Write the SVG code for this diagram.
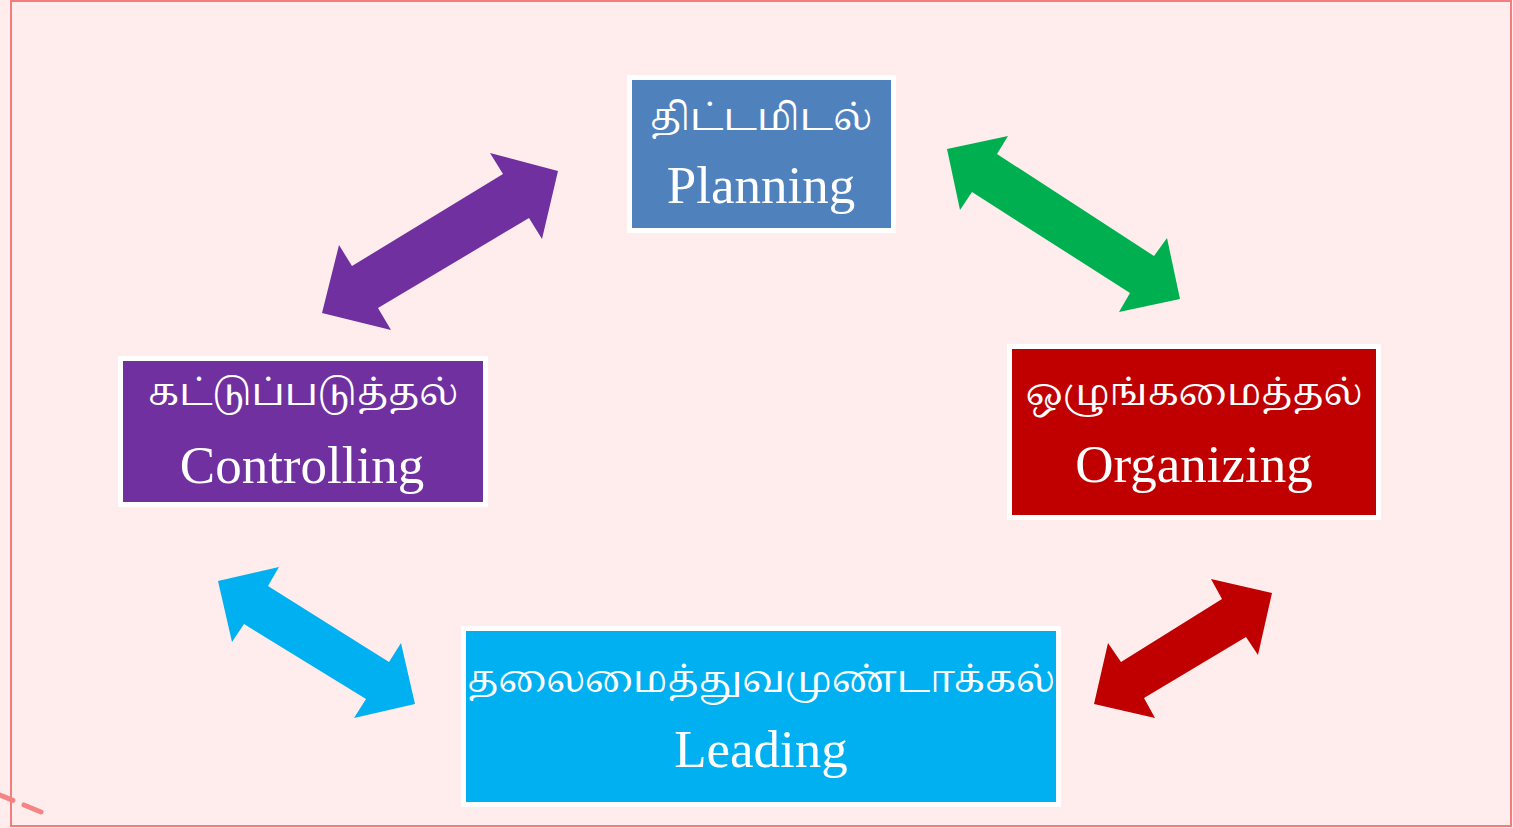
<svg xmlns="http://www.w3.org/2000/svg" width="1513" height="828" viewBox="0 0 1513 828">
<style>
.box{stroke:#FFFFFF;stroke-width:5}
.ta{font-family:"Noto Serif Tamil","Noto Sans Tamil","Liberation Serif",serif;font-size:37px;fill:#FFFFFF;text-anchor:middle}
.en{font-family:"Liberation Serif",serif;font-size:53px;fill:#FFFFFF;text-anchor:middle}
</style>
<rect x="0" y="0" width="1513" height="828" fill="#FFEDED"/>
<rect x="11" y="1" width="1500" height="825" fill="#FFEDED" stroke="#F47C7C" stroke-width="2"/>
<line x1="0" y1="795" x2="41" y2="812" stroke="#F58585" stroke-width="5" stroke-linecap="round" stroke-dasharray="14,12,30"/>
<g id="connectors">
<polygon fill="#7030A0" points="558,171 542,239 529,218 378,308 391,330 322,313 339,245 352,266 503,174 490,153"/>
<polygon fill="#00B050" points="947,149 1008,136 997,154 1154,256 1167,238 1180,299 1119,312 1130,293 972,192 960,210"/>
<polygon fill="#00B0F0" points="218,581 279,567 268,586 389,662 401,643 415,704 354,718 366,699 244,624 232,642"/>
<polygon fill="#C00000" points="1272,593 1258,655 1246,637 1144,698 1155,718 1094,704 1108,643 1121,662 1222,599 1211,579"/>
</g>
<g id="planning">
<rect class="box" x="629.5" y="77.5" width="264" height="153" fill="#4F81BD"/>
<text class="ta" x="761" y="130">திட்டமிடல்</text>
<text class="en" x="761" y="203">Planning</text>
</g>
<g id="controlling">
<rect class="box" x="120.5" y="358.5" width="365" height="146" fill="#7030A0"/>
<text class="ta" x="303" y="405">கட்டுப்படுத்தல்</text>
<text class="en" x="302" y="483">Controlling</text>
</g>
<g id="organizing">
<rect class="box" x="1009.5" y="346.5" width="369" height="171" fill="#C00000"/>
<text class="ta" x="1194" y="405">ஒழுங்கமைத்தல்</text>
<text class="en" x="1194" y="482">Organizing</text>
</g>
<g id="leading">
<rect class="box" x="463.5" y="628.5" width="595" height="176" fill="#00B0F0"/>
<text class="ta" x="761" y="692">தலைமைத்துவமுண்டாக்கல்</text>
<text class="en" x="761" y="767">Leading</text>
</g>
</svg>
